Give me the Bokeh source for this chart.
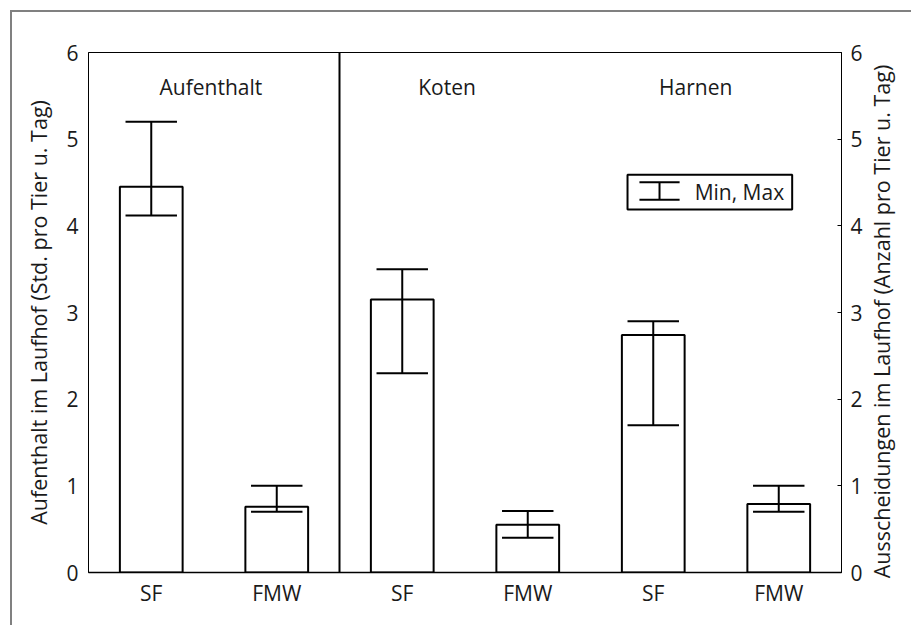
import math
from bokeh.plotting import figure
from bokeh.models import (Range1d, LinearAxis, FixedTicker, Span, ColumnDataSource,
                          BoxAnnotation, Label)
from bokeh.core.properties import value
from bokeh.embed import file_html
from bokeh.resources import INLINE

# ---- data ----
categories = ["SF", "FMW", "SF", "FMW", "SF", "FMW"]
groups = ["Aufenthalt", "Koten", "Harnen"]
means = [4.45, 0.76, 3.15, 0.55, 2.74, 0.79]
mins = [4.12, 0.70, 2.30, 0.40, 1.70, 0.70]
maxs = [5.20, 1.00, 3.50, 0.71, 2.90, 1.00]
y_ticks = [0, 1, 2, 3, 4, 5, 6]
left_title = "Aufenthalt im Laufhof (Std. pro Tier u. Tag)"
right_title = "Ausscheidungen im Laufhof (Anzahl pro Tier u. Tag)"
legend_text = "Min, Max"

FONT = "Open Sans"
FS = "21px"
FS_T = "21.5px"
TXT = "#1a1a1a"

pos = [i + 0.5 for i in range(len(categories))]
bar_w = 0.5
cap_w = 0.41

p = figure(width=901, height=615, x_range=Range1d(0, 6), y_range=Range1d(0, 6),
           output_backend="svg", toolbar_location=None,
           min_border_left=76, min_border_right=71, min_border_top=40, min_border_bottom=55,
           y_axis_location=None, x_axis_location=None)
p.styles = {"margin-left": "10px", "margin-top": "10px",
            "border-left": "2px solid #808080", "border-top": "2px solid #808080"}
p.xgrid.grid_line_color = None
p.ygrid.grid_line_color = None
p.outline_line_color = "black"
p.outline_line_width = 1
p.background_fill_color = "white"
p.border_fill_color = "white"


def style_axis(ax):
    ax.major_label_text_font = FONT
    ax.major_label_text_font_size = FS
    ax.major_label_text_color = TXT
    ax.axis_label_text_font = FONT
    ax.axis_label_text_font_size = FS_T
    ax.axis_label_text_font_style = "normal"
    ax.axis_label_text_color = TXT
    ax.axis_line_color = "black"
    ax.axis_line_width = 1
    ax.minor_tick_line_color = None
    ax.major_tick_line_color = "black"


xaxis = LinearAxis(ticker=FixedTicker(ticks=pos),
                   major_label_overrides={pp: c for pp, c in zip(pos, categories)})
style_axis(xaxis)
xaxis.major_tick_in = 0
xaxis.major_tick_out = 0
xaxis.major_label_standoff = 6
xaxis.axis_line_width = 1.5
p.add_layout(xaxis, "below")

yl = LinearAxis(ticker=FixedTicker(ticks=y_ticks), axis_label=left_title)
style_axis(yl)
yl.major_tick_in = 0
yl.major_tick_out = 0
yl.major_label_standoff = 10
yl.axis_label_standoff = 10
p.add_layout(yl, "left")

p.extra_y_ranges = {"r": Range1d(0, 6)}
yr = LinearAxis(y_range_name="r", ticker=FixedTicker(ticks=y_ticks))
style_axis(yr)
yr.major_tick_in = 4
yr.major_tick_out = 0
yr.major_label_standoff = 9
p.add_layout(yr, "right")

# second, invisible right axis: its single tick label carries the right title,
# rotated to read bottom-to-top like the left title (tick placed so the text is centred)
title_at = 1.14
yr2 = LinearAxis(y_range_name="r", ticker=FixedTicker(ticks=[title_at]),
                 major_label_overrides={title_at: right_title})
style_axis(yr2)
yr2.major_label_text_font_size = FS_T
yr2.axis_line_color = None
yr2.major_tick_line_color = None
yr2.major_tick_in = 0
yr2.major_tick_out = 0
yr2.major_label_standoff = 16
yr2.major_label_orientation = math.pi / 2
p.add_layout(yr2, "right")

# bars
src = ColumnDataSource(dict(x=pos, top=means, lo=mins, hi=maxs,
                            cl=[x - cap_w / 2 for x in pos], cr=[x + cap_w / 2 for x in pos]))
p.vbar(x="x", top="top", bottom=0, width=bar_w, source=src,
       fill_color="white", line_color="black", line_width=2)
# whiskers
p.segment(x0="x", y0="lo", x1="x", y1="hi", source=src, line_color="black", line_width=2)
p.segment(x0="cl", y0="hi", x1="cr", y1="hi", source=src, line_color="black", line_width=2)
p.segment(x0="cl", y0="lo", x1="cr", y1="lo", source=src, line_color="black", line_width=2)

# divider
p.add_layout(Span(location=2, dimension="height", line_color="black", line_width=2))

# group headers
hsrc = ColumnDataSource(dict(x=[0.975, 2.857, 4.838], y=[5.6, 5.6, 5.6], t=groups))
p.text(x="x", y="y", text="t", source=hsrc, text_align="center", text_baseline="middle",
       text_font=value(FONT), text_font_size=FS, text_color=TXT)

# legend
p.add_layout(BoxAnnotation(left=4.295, right=5.607, bottom=4.188, top=4.589, level="underlay",
                           fill_color="white", fill_alpha=1, line_color="black",
                           line_alpha=1, line_width=2))
p.segment(x0=[4.55, 4.39, 4.39], y0=[4.30, 4.503, 4.30], x1=[4.55, 4.71, 4.71],
          y1=[4.503, 4.503, 4.30], line_color="black", line_width=2)
p.add_layout(Label(x=4.83, y=4.39, text=legend_text, text_align="left", text_baseline="middle",
                   text_font=FONT, text_font_size=FS, text_color=TXT))

open("out.html", "w").write(file_html(p, INLINE))
